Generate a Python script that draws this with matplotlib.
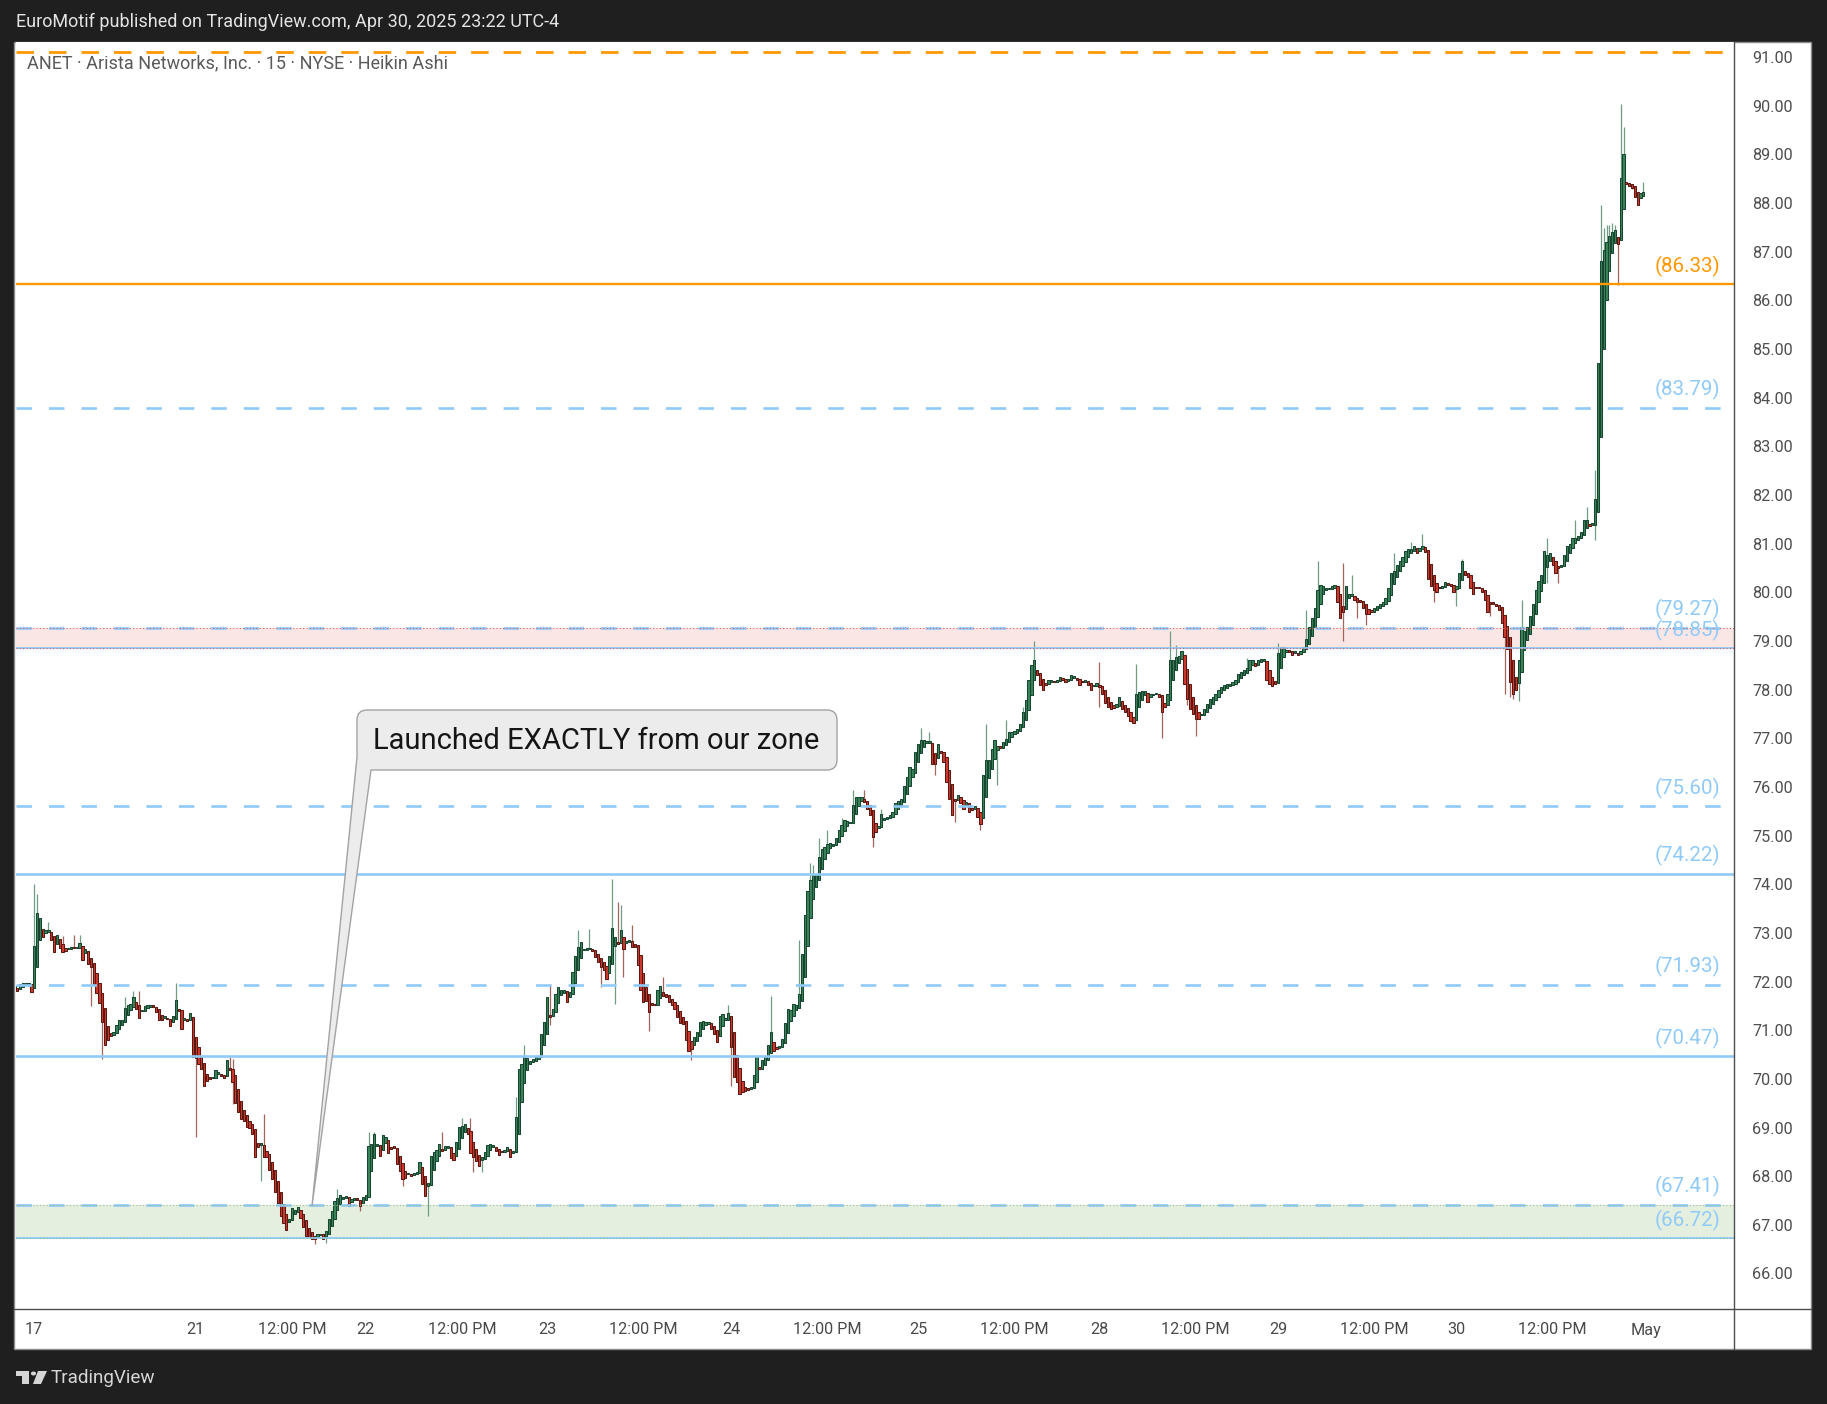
import numpy as np
import matplotlib
matplotlib.use("Agg")
import matplotlib.pyplot as plt
from matplotlib import font_manager
from matplotlib.path import Path
from matplotlib.patches import PathPatch, Rectangle, Circle, Polygon
from matplotlib.lines import Line2D
from matplotlib.transforms import IdentityTransform

W, H = 1827, 1404

# закрытия свечей Heikin Ashi (15 мин, с пре/пост-маркетом), по торговым дням
apr17 = [71.90, 71.80, 71.95, 71.96, 71.95, 71.95, 71.78, 72.74, 73.40, 73.31,
         72.91, 73.05, 73.03, 72.85, 72.60, 72.96, 72.69, 72.60, 72.63, 72.67,
         72.70, 72.68, 72.69, 72.79, 72.44, 72.66, 72.36, 72.29, 71.95, 71.76,
         71.55, 71.16, 70.70, 70.80, 70.88, 70.96, 71.11, 71.20, 71.21, 71.45,
         71.52, 71.54, 71.69, 71.44, 71.26, 71.40, 71.50, 71.52, 71.50, 71.48,
         71.37, 71.20, 71.20, 71.26, 71.22, 71.09, 71.30, 71.62, 71.40, 71.02,
         71.25, 71.18, 71.35, 70.44]
apr21 = [70.43, 70.30, 70.20, 69.86, 69.95, 70.00, 70.02, 70.18, 70.10, 70.06,
         70.02, 70.39, 70.18, 69.94, 69.50, 69.31, 69.17, 69.14, 69.02, 69.00,
         68.87, 68.40, 68.60, 68.65, 68.40, 68.40, 68.13, 67.94, 67.68, 67.44,
         67.19, 67.03, 66.90, 67.12, 67.34, 67.30, 67.36, 67.15, 66.96, 66.78,
         66.76, 66.71, 66.71, 66.82, 66.82, 66.71, 66.88, 67.12, 67.29, 67.49,
         67.56, 67.62, 67.58, 67.58, 67.39, 67.53, 67.55, 67.51, 67.39, 67.58]
apr22 = [67.62, 68.63, 68.66, 68.87, 68.65, 68.42, 68.84, 68.80, 68.47, 68.56,
         68.58, 68.26, 68.11, 67.94, 67.97, 68.04, 68.01, 68.05, 68.09, 68.30,
         67.84, 67.60, 67.85, 68.41, 68.49, 68.54, 68.67, 68.52, 68.61, 68.61,
         68.37, 68.34, 68.71, 69.02, 69.04, 69.08, 68.87, 68.47, 68.40, 68.32,
         68.21, 68.39, 68.49, 68.65, 68.66, 68.62, 68.52, 68.43, 68.49, 68.54,
         68.59, 68.39, 68.52, 69.22, 70.20, 70.30, 70.46, 70.42, 70.37, 70.40,
         70.44, 70.48, 70.93, 71.17]
apr23 = [71.68, 71.28, 71.44, 71.75, 71.89,
         71.82, 71.83, 71.58, 71.78, 72.19, 72.52, 72.71, 72.81, 72.67, 72.67,
         72.67, 72.63, 72.50, 72.40, 72.30, 72.23, 72.06, 72.52, 73.11, 72.91,
         72.78, 73.05, 72.67, 72.84, 72.86, 72.72, 72.71, 72.33, 71.82, 71.58,
         71.61, 71.37, 71.51, 71.51, 71.82, 71.90, 71.71, 71.68, 71.58, 71.51,
         71.44, 71.27, 71.15, 71.12, 70.79, 70.58, 70.62, 70.86, 70.96, 71.17,
         71.19, 71.17, 71.16, 71.03, 70.93, 70.76, 71.30, 71.34, 71.22, 71.35]
apr24 = [70.65, 70.03, 69.93, 69.69, 69.73, 69.76, 69.78, 69.83, 70.07, 70.48,
         70.21, 70.38, 70.48, 70.69, 70.96, 70.58, 70.62, 70.65, 70.82, 71.15,
         71.44, 71.41, 71.53, 71.51, 71.75, 72.57, 73.36, 73.87, 74.08, 74.18,
         74.22, 74.56, 74.73, 74.76, 74.83, 74.85, 74.82, 74.94, 75.11, 75.21,
         75.31, 75.30, 75.28, 75.62, 75.79, 75.79, 75.79, 75.69, 75.55, 75.42,
         74.97, 75.07, 75.19, 75.45, 75.37, 75.38, 75.42, 75.48, 75.66, 75.72,
         75.76, 76.01, 76.20, 76.40, 76.37, 76.72]
apr25 = [76.89, 76.96, 76.97, 76.90, 76.92, 76.48, 76.48, 76.89, 76.70, 76.51,
         76.10, 75.76, 75.42, 75.72, 75.84, 75.66, 75.55, 75.69, 75.48, 75.52,
         75.60, 75.38, 75.24, 76.24, 76.56, 76.56, 76.77, 76.96, 76.85, 76.80,
         76.92, 76.99, 77.13, 77.13, 77.14, 77.20, 77.30, 77.54, 77.78,
         78.20, 78.50, 78.60, 78.30, 78.10, 78.00, 78.10, 78.20, 78.20, 78.15,
         78.20, 78.25, 78.20, 78.15, 78.20, 78.30, 78.25, 78.20, 78.10, 78.15,
         78.20, 78.10, 78.00, 78.08, 78.13]
apr28 = [78.05, 77.90, 77.72, 77.64, 77.60, 77.62, 77.70, 77.84, 77.60, 77.55,
         77.45, 77.35, 77.32, 77.90, 77.95, 77.97, 77.97, 77.75, 77.92, 77.92,
         77.92, 77.85, 77.55, 77.65, 77.90, 78.60, 78.60, 78.68, 78.70, 78.80,
         78.12, 77.80, 77.60, 77.50, 77.40, 77.40, 77.50, 77.60, 77.70, 77.80,
         77.85, 77.90, 78.00, 78.05, 78.10, 78.12, 78.12, 78.15,
         78.20, 78.32, 78.36, 78.40, 78.44, 78.60, 78.60, 78.48, 78.60, 78.62,
         78.60, 78.20, 78.12, 78.08, 78.12]
apr29 = [78.76, 78.88, 78.88, 78.80, 78.78, 78.72, 78.77, 78.72, 78.80, 78.88,
         79.04, 79.28, 79.48, 79.68, 80.04, 80.16, 80.13, 80.08, 80.08, 80.12,
         80.16, 79.80, 79.48, 79.60, 80.12, 79.96, 79.94, 79.84, 79.80, 79.80,
         79.68, 79.56, 79.56, 79.60, 79.68, 79.72, 79.76, 79.80, 79.88, 80.08,
         80.40, 80.44, 80.56, 80.64, 80.72, 80.84, 80.88, 80.88, 80.96, 80.80,
         80.92, 80.96, 80.83, 80.28, 80.12, 80.04, 80.00, 80.08, 80.12, 80.22,
         80.16, 80.12, 80.00]
apr30 = [80.12, 80.40, 80.64, 80.36, 80.32, 80.08, 79.96, 80.08, 80.08, 80.00,
         79.84, 79.60, 79.76, 79.76, 79.72, 79.64, 79.36, 79.08, 78.84, 78.16,
         77.92, 78.00, 78.60, 79.28, 79.20, 79.28, 79.52, 79.76, 80.04, 80.24,
         80.36, 80.84, 80.76, 80.80, 80.56, 80.40, 80.50, 80.56, 80.76, 80.96,
         81.00, 81.12, 81.12, 81.16, 81.24, 81.48, 81.48, 81.36, 81.40, 81.92,
         84.72, 86.80, 87.04, 87.20, 87.32, 87.40, 87.44, 87.16, 88.52, 89.00,
         88.40, 88.36, 88.30, 88.12, 87.96, 88.20, 88.22]
days = [apr17, apr21, apr22, apr23, apr24, apr25, apr28, apr29, apr30]
day_labels = ['17', '21', '22', '23', '24', '25', '28', '29', '30']
next_day_label = 'May'
first_open = 71.85

# заметные тени (номер бара, цена)
wick_high = [(7, 74.00), (8, 73.80), (12, 73.22), (17, 72.94), (21, 72.96), (23, 72.96),
             (39, 71.68), (42, 71.81), (44, 71.80), (57, 71.96), (76, 70.44), (77, 70.40),
             (88, 69.28), (114, 67.73), (125, 68.90), (127, 68.90), (151, 68.90),
             (158, 69.20), (161, 69.20), (177, 69.62), (180, 70.70), (189, 71.95),
             (199, 73.05), (203, 73.08), (211, 74.11), (213, 73.63), (214, 73.58),
             (218, 73.17), (229, 72.09), (252, 71.51), (267, 71.71), (277, 72.85),
             (281, 74.44), (282, 74.40), (284, 74.94), (287, 75.11), (292, 75.37),
             (296, 75.93), (300, 75.94), (306, 75.55), (320, 77.22), (323, 77.13),
             (343, 77.30), (350, 77.38), (356, 77.64), (360, 79.00), (383, 78.56),
             (396, 78.52), (408, 79.20), (410, 78.92), (435, 78.64), (446, 78.96),
             (456, 79.64), (460, 80.64), (469, 80.60), (472, 80.36), (487, 80.80),
             (493, 81.04), (497, 81.20), (511, 80.68), (532, 79.84), (537, 80.04),
             (541, 81.12), (551, 81.48), (555, 81.76), (558, 82.52), (560, 87.97),
             (561, 87.48), (562, 87.55), (563, 87.55), (564, 87.60), (565, 87.55),
             (567, 90.04), (568, 89.56), (575, 88.44)]
wick_low = [(27, 71.50), (31, 70.41), (64, 68.80), (77, 69.48), (87, 67.90), (96, 66.95),
            (106, 66.60), (110, 66.62), (122, 67.29), (137, 67.80), (146, 67.19),
            (162, 68.08), (165, 68.08), (189, 71.10), (207, 71.89), (212, 71.54),
            (215, 72.09), (224, 70.99), (239, 70.38), (253, 69.86), (303, 74.76),
            (325, 76.24), (332, 75.28), (341, 75.11), (347, 76.03), (383, 77.64),
            (405, 77.00), (414, 77.68), (417, 77.05), (469, 79.00), (474, 79.48),
            (477, 79.32), (501, 79.80), (509, 79.72), (521, 79.52), (526, 77.92),
            (528, 77.85), (529, 77.80), (531, 77.76), (541, 80.20), (545, 80.20),
            (558, 81.08), (566, 86.32), (571, 88.28)]

# горизонтальные уровни
levels = [91.10, 86.33, 83.79, 79.27, 78.85, 75.60, 74.22, 71.93, 70.47, 67.41, 66.72]
level_style = ['dash', 'solid', 'dash', 'dash', 'thin', 'dash', 'solid', 'dash', 'solid', 'dash', 'thin']
level_color = ['o', 'o', 'b', 'b', 'b', 'b', 'b', 'b', 'b', 'b', 'b']
level_shown = [False, True, True, True, True, True, True, True, True, True, True]
zone_red = (78.85, 79.27)
zone_green = (66.72, 67.41)

header = 'EuroMotif published on TradingView.com, Apr 30, 2025 23:22 UTC-4'
subtitle = 'ANET \u00b7 Arista Networks, Inc. \u00b7 15 \u00b7 NYSE \u00b7 Heikin Ashi'
note = 'Launched EXACTLY from our zone'

ORANGE = '#ff9800'
BLUE = '#90caf9'
BG = '#1f1f1f'

names = {f.name for f in font_manager.fontManager.ttflist}
font = 'Roboto' if 'Roboto' in names else 'DejaVu Sans'
plt.rcParams['font.family'] = [font, 'DejaVu Sans']


def fxy(x, y):
    # пиксели (сверху вниз) -> доли фигуры
    return x / W, 1 - y / H


def dxy(x, y):
    # пиксели (сверху вниз) -> координаты дисплея
    return x, H - y


fig = plt.figure(figsize=(W / 100, H / 100), dpi=100)
fig.patch.set_facecolor(BG)

# белая панель графика
fig.add_artist(Rectangle(fxy(14, 1349), (1811 - 14) / W, (1349 - 42) / H,
                         transform=fig.transFigure, facecolor='white',
                         edgecolor='#8c8c8c', linewidth=1.0, zorder=0))

x0, x1, y0, y1 = 16, 1734, 42, 1309
ax = fig.add_axes([x0 / W, 1 - y1 / H, (x1 - x0) / W, (y1 - y0) / H])
ax.set_facecolor('white')
for s in ax.spines.values():
    s.set_visible(False)

# Heikin Ashi: open = середина тела предыдущей свечи
closes = np.array(sum(days, []), dtype=float)
n = closes.size
opens = np.empty(n)
opens[0] = first_open
for i in range(1, n):
    opens[i] = (opens[i - 1] + closes[i - 1]) / 2
up = closes >= opens
top = np.maximum(opens, closes)
bot = np.minimum(opens, closes)
highs = top.copy()
lows = bot.copy()
for b, v in wick_high:
    highs[b] = max(highs[b], v)
for b, v in wick_low:
    lows[b] = min(lows[b], v)

xs = np.arange(n)
has_wick = (highs > top + 1e-9) | (lows < bot - 1e-9)
wick_col = np.where(up, '#6f9c82', '#a0665e')
ax.vlines(xs[has_wick], lows[has_wick], highs[has_wick],
          colors=wick_col[has_wick], linewidth=0.9, zorder=2)

height = np.maximum(top - bot, 0.035)
ax.bar(xs, height, bottom=bot, width=0.8,
       color=np.where(up, '#3b855a', '#cd3a2e'),
       edgecolor=np.where(up, '#184530', '#5a1812'),
       linewidth=0.75, zorder=3)

# зоны
ax.axhspan(zone_red[0], zone_red[1], facecolor='#fbe6e6', edgecolor='none', zorder=1)
ax.axhspan(zone_green[0], zone_green[1], facecolor='#e4efdf', edgecolor='none', zorder=1)

blue_dash = (0, (15.5 / 1.39 / 1.9, 17 / 1.39 / 1.9))
orange_dash = (0, (17.5 / 1.39 / 2.0, 15 / 1.39 / 2.0))
for price, st, col, shown in zip(levels, level_style, level_color, level_shown):
    c = ORANGE if col == 'o' else BLUE
    if st == 'dash':
        if col == 'o':
            ax.axhline(price, color=c, linewidth=2.0, linestyle=orange_dash, zorder=4)
        else:
            ax.axhline(price, color=c, linewidth=1.9, linestyle=blue_dash, zorder=4)
    elif st == 'solid':
        ax.axhline(price, color=c, linewidth=1.9 if col == 'b' else 1.7, zorder=4)
    else:
        ax.axhline(price, color=c, linewidth=1.3, zorder=4)
    if shown:
        ax.annotate(f'({price:.2f})', xy=(1, price), xycoords=('axes fraction', 'data'),
                    xytext=(-14, 18), textcoords='offset pixels', ha='right', va='center',
                    fontsize=14.8, color=c, zorder=6)

for z, dc in ((zone_red, '#e05a5a'), (zone_green, '#8fbf8a')):
    for p in z:
        ax.axhline(p, color=dc, linewidth=0.8, linestyle=(0, (1, 2)), zorder=5)

ax.set_xlim(0.57, 607.0)
ax.set_ylim(65.27, 91.31)

yt = np.arange(66, 92)
ax.yaxis.tick_right()
ax.set_yticks(yt)
ax.set_yticklabels([f'{v:.2f}' for v in yt])
ax.tick_params(axis='y', length=0, pad=13, labelsize=11.7, labelcolor='#4f4f4f')
ax.set_xticks([])

# подписи оси времени
lens = [len(d) for d in days]
starts = np.cumsum([0] + lens[:-1])
tick_pos = [7] + list(starts[1:]) + [n]
tick_txt = day_labels + [next_day_label]
noon_pos = list(starts[1:] + 34)
for p, t in list(zip(tick_pos, tick_txt)) + [(p, '12:00 PM') for p in noon_pos]:
    ax.text(p, -(1330 - y1) / (y1 - y0), t, transform=ax.get_xaxis_transform(),
            ha='center', va='center', fontsize=11.7, color='#4a4a4a', clip_on=False)

# разделители панели
fig.add_artist(Line2D([fxy(1734, 0)[0]] * 2, [fxy(0, 42)[1], fxy(0, 1349)[1]],
                      transform=fig.transFigure, color='#4d4d4d', linewidth=1.0))
fig.add_artist(Line2D([fxy(14, 0)[0], fxy(1811, 0)[0]], [fxy(0, 1309)[1]] * 2,
                      transform=fig.transFigure, color='#4d4d4d', linewidth=1.0))

# заголовки
fig.text(*fxy(16, 22), header, color='#e4e4e4', fontsize=13.0, va='center', ha='left')
fig.text(*fxy(27, 63), subtitle, color='#5a5a5a', fontsize=13.0, va='center', ha='left')

# выноска
bx0, bx1, by0, by1, r = 357, 837, 710, 770, 10
pts = [(bx0 + r, by0), (bx1 - r, by0), (bx1, by0), (bx1, by0 + r), (bx1, by1 - r),
       (bx1, by1), (bx1 - r, by1), (371, by1), (312, 1206), (bx0, 757),
       (bx0, by0 + r), (bx0, by0), (bx0 + r, by0)]
codes = [Path.MOVETO, Path.LINETO, Path.CURVE3, Path.CURVE3, Path.LINETO,
         Path.CURVE3, Path.CURVE3, Path.LINETO, Path.LINETO, Path.LINETO,
         Path.LINETO, Path.CURVE3, Path.CURVE3]
callout = Path([dxy(*p) for p in pts], codes)
fig.add_artist(PathPatch(callout, transform=IdentityTransform(), facecolor='#ececec',
                         edgecolor='#a3a3a3', linewidth=1.0, zorder=10))
fig.text(*fxy(373, 741), note, fontsize=21.0, color='#151515', va='center', ha='left',
         zorder=11)

# логотип TradingView
logo_c = '#d6d6d6'
fig.add_artist(Rectangle(fxy(16, 1376), 13 / W, 5 / H, transform=fig.transFigure,
                         facecolor=logo_c, edgecolor='none'))
fig.add_artist(Rectangle(fxy(22, 1384), 7 / W, 8 / H, transform=fig.transFigure,
                         facecolor=logo_c, edgecolor='none'))
fig.add_artist(Circle(fxy(33.5, 1373.5), 2.6 / W, transform=fig.transFigure,
                      facecolor=logo_c, edgecolor='none'))
fig.add_artist(Polygon([fxy(38, 1371), fxy(47, 1371), fxy(41, 1384), fxy(33, 1384)],
                       closed=True, transform=fig.transFigure, facecolor=logo_c,
                       edgecolor='none'))
fig.text(*fxy(51, 1378), 'TradingView', color=logo_c, fontsize=13.6, va='center', ha='left')

fig.savefig('out.png', dpi=100, facecolor=BG)
